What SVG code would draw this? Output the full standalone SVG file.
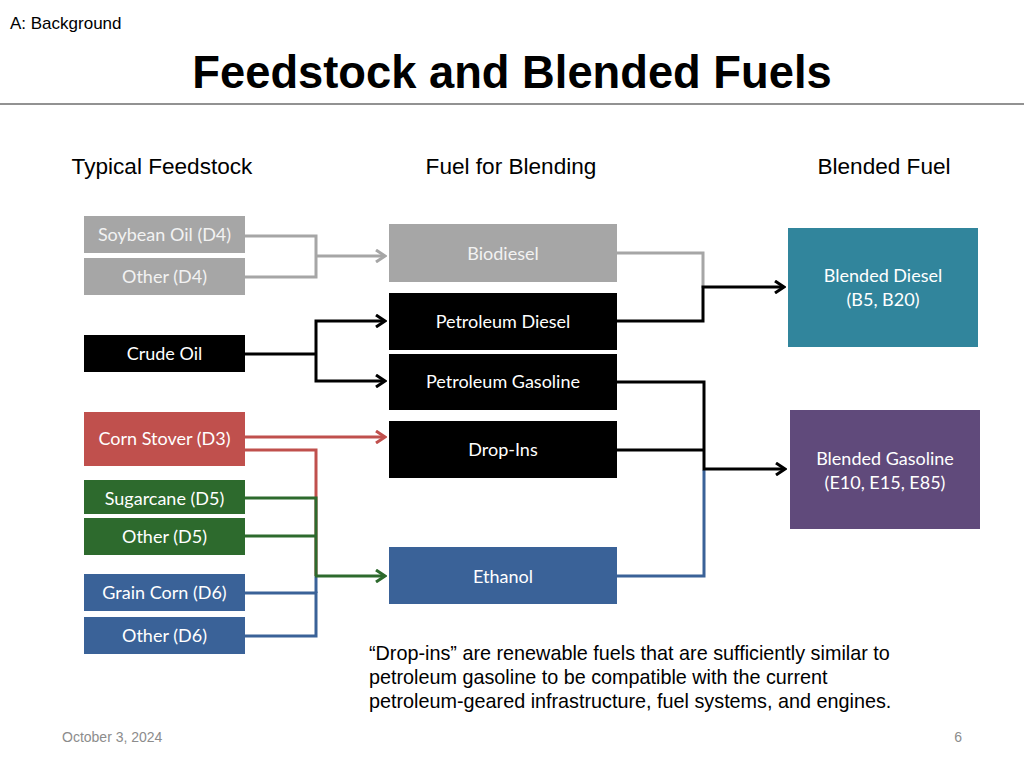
<svg xmlns="http://www.w3.org/2000/svg" width="1024" height="768" viewBox="0 0 1024 768">
<style>
.hdr{font-family:"Liberation Sans",Arial,sans-serif;fill:#000}
.bt{font-family:Lato,"Open Sans",sans-serif;font-size:18px;fill:#fff;text-anchor:middle}
.gt{fill:#f2f2f2}
.ln{fill:none;stroke-width:3;stroke-linejoin:miter}
.gray{stroke:#a6a6a6}
.blk{stroke:#000}
.red{stroke:#c0504d}
.grn{stroke:#2d6a2d}
.blu{stroke:#3a6298}
</style>
<defs>
<marker id="ag" markerWidth="12" markerHeight="14" refX="10" refY="7" orient="auto" markerUnits="userSpaceOnUse"><polyline points="1,1 10,7 1,13" fill="none" stroke="#a6a6a6" stroke-width="3"/></marker>
<marker id="ak" markerWidth="12" markerHeight="14" refX="10" refY="7" orient="auto" markerUnits="userSpaceOnUse"><polyline points="1,1 10,7 1,13" fill="none" stroke="#000" stroke-width="3"/></marker>
<marker id="ar" markerWidth="12" markerHeight="14" refX="10" refY="7" orient="auto" markerUnits="userSpaceOnUse"><polyline points="1,1 10,7 1,13" fill="none" stroke="#c0504d" stroke-width="3"/></marker>
<marker id="an" markerWidth="12" markerHeight="14" refX="10" refY="7" orient="auto" markerUnits="userSpaceOnUse"><polyline points="1,1 10,7 1,13" fill="none" stroke="#2d6a2d" stroke-width="3"/></marker>
</defs>
<rect width="1024" height="768" fill="#fff"/>
<text class="hdr" x="10" y="29" font-size="17">A: Background</text>
<text class="hdr" x="512" y="88" font-size="45.3" font-weight="bold" text-anchor="middle">Feedstock and Blended Fuels</text>
<line x1="0" y1="104" x2="1024" y2="104" stroke="#6e6e6e" stroke-width="1.5"/>
<text class="hdr" x="162" y="174" font-size="22.6" text-anchor="middle">Typical Feedstock</text>
<text class="hdr" x="511" y="174" font-size="22.6" text-anchor="middle">Fuel for Blending</text>
<text class="hdr" x="884" y="174" font-size="22.6" text-anchor="middle">Blended Fuel</text>

<g id="connectors">
<polyline class="ln gray" points="245,236 316,236 316,277 245,277"/>
<line class="ln gray" x1="316" y1="256" x2="385" y2="256" marker-end="url(#ag)"/>
<line class="ln blk" x1="245" y1="354" x2="316" y2="354"/>
<polyline class="ln blk" points="316,354 316,321 385,321" marker-end="url(#ak)"/>
<polyline class="ln blk" points="316,354 316,381 385,381" marker-end="url(#ak)"/>
<line class="ln red" x1="245" y1="437" x2="385" y2="437" marker-end="url(#ar)"/>
<polyline class="ln blu" points="245,593 316,593 316,636 245,636"/>
<line class="ln blu" x1="316" y1="576" x2="316" y2="593"/>
<polyline class="ln red" points="245,450 316,450 316,576"/>
<polyline class="ln grn" points="245,498 316,498 316,576"/>
<line class="ln grn" x1="245" y1="536" x2="316" y2="536"/>
<line class="ln grn" x1="315" y1="576" x2="385" y2="576" marker-end="url(#an)"/>
<polyline class="ln gray" points="617,253 703,253 703,288"/>
<polyline class="ln blk" points="617,321 703,321 703,287 784,287" marker-end="url(#ak)"/>
<polyline class="ln blu" points="617,576 704,576 704,470"/>
<polyline class="ln blk" points="617,382 704,382 704,469 785,469" marker-end="url(#ak)"/>
<line class="ln blk" x1="617" y1="450" x2="704" y2="450"/>
</g>

<g id="soybean"><rect x="84" y="216" width="161" height="37" fill="#a6a6a6"/><text class="bt gt" x="164.5" y="241">Soybean Oil (D4)</text></g>
<g id="other-d4"><rect x="84" y="258" width="161" height="37" fill="#a6a6a6"/><text class="bt gt" x="164.5" y="283">Other (D4)</text></g>
<g id="crude"><rect x="84" y="335" width="161" height="37" fill="#000"/><text class="bt" x="164.5" y="360">Crude Oil</text></g>
<g id="corn-stover"><rect x="84" y="412" width="161" height="54" fill="#c0504d"/><text class="bt" x="164.5" y="445">Corn Stover (D3)</text></g>
<g id="sugarcane"><rect x="84" y="480" width="161" height="34" fill="#2d6a2d"/><text class="bt" x="164.5" y="505">Sugarcane (D5)</text></g>
<g id="other-d5"><rect x="84" y="518" width="161" height="37" fill="#2d6a2d"/><text class="bt" x="164.5" y="543">Other (D5)</text></g>
<g id="grain-corn"><rect x="84" y="574" width="161" height="37" fill="#3a6298"/><text class="bt" x="164.5" y="599">Grain Corn (D6)</text></g>
<g id="other-d6"><rect x="84" y="617" width="161" height="37" fill="#3a6298"/><text class="bt" x="164.5" y="642">Other (D6)</text></g>

<g id="biodiesel"><rect x="389" y="224" width="228" height="58" fill="#a6a6a6"/><text class="bt gt" x="503" y="260">Biodiesel</text></g>
<g id="pet-diesel"><rect x="389" y="293" width="228" height="57" fill="#000"/><text class="bt" x="503" y="328">Petroleum Diesel</text></g>
<g id="pet-gasoline"><rect x="389" y="354" width="228" height="56" fill="#000"/><text class="bt" x="503" y="388">Petroleum Gasoline</text></g>
<g id="drop-ins"><rect x="389" y="421" width="228" height="57" fill="#000"/><text class="bt" x="503" y="456">Drop-Ins</text></g>
<g id="ethanol"><rect x="389" y="547" width="228" height="57" fill="#3a6298"/><text class="bt" x="503" y="583">Ethanol</text></g>

<g id="blended-diesel"><rect x="788" y="228" width="190" height="119" fill="#31859c"/><text class="bt" x="883" y="282">Blended Diesel</text><text class="bt" x="883" y="306">(B5, B20)</text></g>
<g id="blended-gasoline"><rect x="790" y="410" width="190" height="119" fill="#604a7b"/><text class="bt" x="885" y="465">Blended Gasoline</text><text class="bt" x="885" y="489">(E10, E15, E85)</text></g>

<g class="hdr" font-size="19.8">
<text x="369" y="660">“Drop-ins” are renewable fuels that are sufficiently similar to</text>
<text x="369" y="684">petroleum gasoline to be compatible with the current</text>
<text x="369" y="708">petroleum-geared infrastructure, fuel systems, and engines.</text>
</g>
<text x="62" y="742" font-family="Liberation Sans,Arial,sans-serif" font-size="14" fill="#8c8c8c">October 3, 2024</text>
<text x="962" y="742" font-family="Liberation Sans,Arial,sans-serif" font-size="14" fill="#8c8c8c" text-anchor="end">6</text>
</svg>
